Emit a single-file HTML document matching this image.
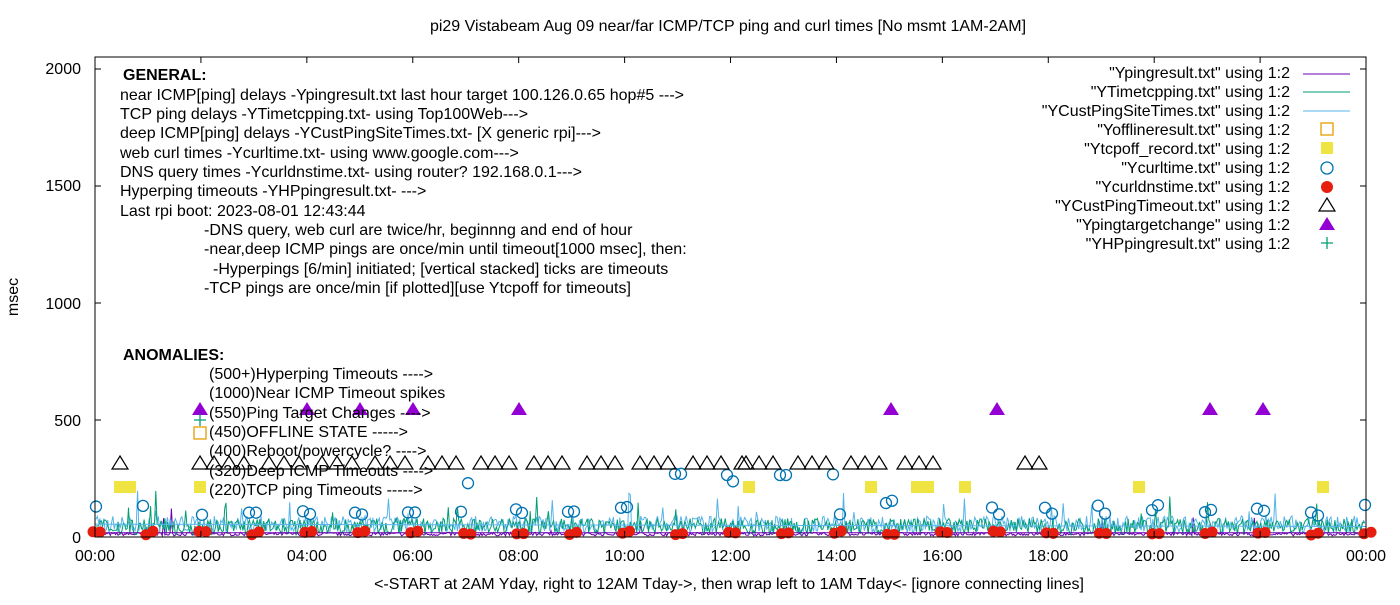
<!DOCTYPE html>
<html><head><meta charset="utf-8"><style>
body{margin:0;background:#fff;width:1400px;height:600px;overflow:hidden}
svg text{font-family:"Liberation Sans",sans-serif;font-size:16px;fill:#000}
</style></head><body>
<svg id="s" width="1400" height="600" xmlns="http://www.w3.org/2000/svg">
<rect width="1400" height="600" fill="#fff"/>
<g id="data"></g>
<rect x="95" y="57" width="1271" height="480" fill="none" stroke="#000" stroke-width="1"/>
<g id="ticks" stroke="#000"></g>
<text x="728" y="31" text-anchor="middle">pi29 Vistabeam Aug 09  near/far ICMP/TCP ping and curl times [No msmt 1AM-2AM]</text>
<text x="729" y="589" text-anchor="middle">&lt;-START at 2AM Yday, right to 12AM Tday-&gt;, then wrap left to 1AM Tday&lt;- [ignore connecting lines]</text>
<text transform="translate(18,297) rotate(-90)" text-anchor="middle">msec</text>
<g text-anchor="end">
<text x="81" y="74">2000</text><text x="81" y="191">1500</text><text x="81" y="309">1000</text><text x="81" y="426">500</text><text x="81" y="543">0</text>
</g>
<g text-anchor="middle" id="xl"></g>
<g>
<text x="123" y="80" font-weight="bold">GENERAL:</text>
<text x="120" y="100">near ICMP[ping] delays -Ypingresult.txt last hour target 100.126.0.65 hop#5 ---&gt;</text>
<text x="120" y="119">TCP ping delays -YTimetcpping.txt- using Top100Web---&gt;</text>
<text x="120" y="138">deep ICMP[ping] delays -YCustPingSiteTimes.txt- [X generic rpi]---&gt;</text>
<text x="120" y="158">web curl times -Ycurltime.txt- using www.google.com---&gt;</text>
<text x="120" y="177">DNS query times -Ycurldnstime.txt- using router? 192.168.0.1---&gt;</text>
<text x="120" y="196">Hyperping timeouts -YHPpingresult.txt- ---&gt;</text>
<text x="120" y="216">Last rpi boot: 2023-08-01 12:43:44</text>
<text x="204" y="235">-DNS query, web curl are twice/hr, beginnng and end of hour</text>
<text x="204" y="254">-near,deep ICMP pings are once/min until timeout[1000 msec], then:</text>
<text x="213" y="274">-Hyperpings [6/min] initiated; [vertical stacked] ticks are timeouts</text>
<text x="204" y="293">-TCP pings are once/min [if plotted][use Ytcpoff for timeouts]</text>
<text x="123" y="360" font-weight="bold">ANOMALIES:</text>
<text x="209" y="379">(500+)Hyperping Timeouts ----&gt;</text>
<text x="209" y="398">(1000)Near ICMP Timeout spikes</text>
<text x="209" y="418">(550)Ping Target Changes ----&gt;</text>
<text x="209" y="437">(450)OFFLINE STATE -----&gt;</text>
<text x="209" y="456">(400)Reboot/powercycle? ----&gt;</text>
<text x="209" y="476">(320)Deep ICMP Timeouts ----&gt;</text>
<text x="209" y="495">(220)TCP ping Timeouts -----&gt;</text>
</g>
<g text-anchor="end">
<text x="1290" y="78">"Ypingresult.txt" using 1:2</text>
<text x="1290" y="97">"YTimetcpping.txt" using 1:2</text>
<text x="1290" y="116">"YCustPingSiteTimes.txt" using 1:2</text>
<text x="1290" y="135">"Yofflineresult.txt" using 1:2</text>
<text x="1290" y="154">"Ytcpoff_record.txt" using 1:2</text>
<text x="1290" y="173">"Ycurltime.txt" using 1:2</text>
<text x="1290" y="192">"Ycurldnstime.txt" using 1:2</text>
<text x="1290" y="211">"YCustPingTimeout.txt" using 1:2</text>
<text x="1290" y="230">"Ypingtargetchange" using 1:2</text>
<text x="1290" y="249">"YHPpingresult.txt" using 1:2</text>
</g>
<g>
<line x1="1303" y1="74" x2="1350" y2="74" stroke="#6a00b0"/>
<line x1="1303" y1="92" x2="1350" y2="92" stroke="#009e73"/>
<line x1="1303" y1="111" x2="1350" y2="111" stroke="#56b4e9"/>
<rect x="1321" y="123" width="12" height="12" fill="none" stroke="#e69f00" stroke-width="1.3"/>
<rect x="1321" y="142" width="12" height="12" fill="#f0e442"/>
<circle cx="1327" cy="168" r="6" fill="none" stroke="#0072b2" stroke-width="1.3"/>
<circle cx="1327" cy="187" r="6" fill="#e51e10"/>
<polygon points="1327,198 1335,211 1319,211" fill="none" stroke="#000" stroke-width="1.2"/>
<polygon points="1327,217 1335,230 1319,230" fill="#9400d3"/>
<path d="M1321 243h12M1327 237v12" stroke="#009e73" stroke-width="1.3"/>
</g>
</svg>
<script>
var NS="http://www.w3.org/2000/svg",d=document.getElementById("data");
var seed=7;function r(){seed=(seed*16807)%2147483647;return seed/2147483647;}
function el(t,a){var e=document.createElementNS(NS,t);for(var k in a)e.setAttribute(k,a[k]);return e;}
function X(h){return 95+h*52.96;}function Y(v){return 537-v*0.234;}
var tk=document.getElementById("ticks"),xl=document.getElementById("xl");
for(var i=0;i<=12;i++){var x=X(i*2);tk.appendChild(el("line",{x1:x,y1:537,x2:x,y2:531}));tk.appendChild(el("line",{x1:x,y1:57,x2:x,y2:63}));
var t=el("text",{x:x,y:561});t.textContent=(i==12?"00":("0"+i*2).slice(-2))+":00";xl.appendChild(t);}
[0,500,1000,1500,2000].forEach(function(v){tk.appendChild(el("line",{x1:95,y1:Y(v),x2:101,y2:Y(v)}));tk.appendChild(el("line",{x1:1360,y1:Y(v),x2:1366,y2:Y(v)}));});
function line(col,base,amp,spk){var p=[];for(var x=96;x<1365;x+=1.3){var v=base+r()*amp;if(r()<spk)v+=r()*120;p.push(x.toFixed(1)+","+Y(v).toFixed(1));}
d.appendChild(el("polyline",{points:p.join(" "),fill:"none",stroke:col,"stroke-width":1}));}
line("#6a00b0",5,15,0.005);line("#56b4e9",20,70,0.03);line("#009e73",10,70,0.03);
d.appendChild(el("line",{x1:95,y1:Y(55),x2:1366,y2:Y(45),stroke:"#56b4e9"}));
d.appendChild(el("line",{x1:95,y1:Y(18),x2:1366,y2:Y(18),stroke:"#6a00b0"}));
for(var h=0;h<=24;h++){var xs=[X(h)-2,X(h)+5];xs.forEach(function(x){d.appendChild(el("circle",{cx:x,cy:535-r()*4,r:5.5,fill:"#e51e10"}));});}
var bc=[[96,130],[143,133],[202,95],[249,104],[256,104],[303,110],[310,98],[355,104],[362,96],[408,105],[415,105],[461,108],[468,230],[516,118],[522,103],[568,108],[574,109],[621,125],[627,128],[675,270],[681,270],[727,265],[733,238],[780,265],[786,265],[833,268],[840,97],[886,145],[892,155],[992,126],[999,97],[1045,125],[1052,100],[1098,134],[1105,100],[1152,115],[1158,136],[1205,106],[1211,116],[1257,121],[1264,112],[1311,105],[1318,92],[1365,137]];
bc.forEach(function(p){d.appendChild(el("circle",{cx:p[0],cy:Y(p[1]),r:5.5,fill:"none",stroke:"#0072b2","stroke-width":1.3}));});
var ot=[120,200,214,229,244,269,284,299,322,337,352,375,390,405,428,442,456,481,495,509,534,548,562,587,601,615,640,654,668,693,707,721,742,746,759,773,798,812,826,851,865,879,905,919,933,1025,1039];
ot.forEach(function(x){d.appendChild(el("polygon",{points:x+",456 "+(x+8)+",469 "+(x-8)+",469",fill:"none",stroke:"#000","stroke-width":1.2}));});
[200,307,360,413,519,891,997,1210,1263].forEach(function(x){d.appendChild(el("polygon",{points:x+",402 "+(x+8)+",415 "+(x-8)+",415",fill:"#9400d3"}));});
[120,130,200,749,871,917,928,965,1139,1323].forEach(function(x){d.appendChild(el("rect",{x:x-6,y:481,width:12,height:12,fill:"#f0e442"}));});
d.appendChild(el("rect",{x:194,y:427,width:12,height:12,fill:"none",stroke:"#e69f00","stroke-width":1.3}));
d.appendChild(el("path",{d:"M194 420h12M200 414v12",stroke:"#009e73","stroke-width":1.3}));
</script>
</body></html>
